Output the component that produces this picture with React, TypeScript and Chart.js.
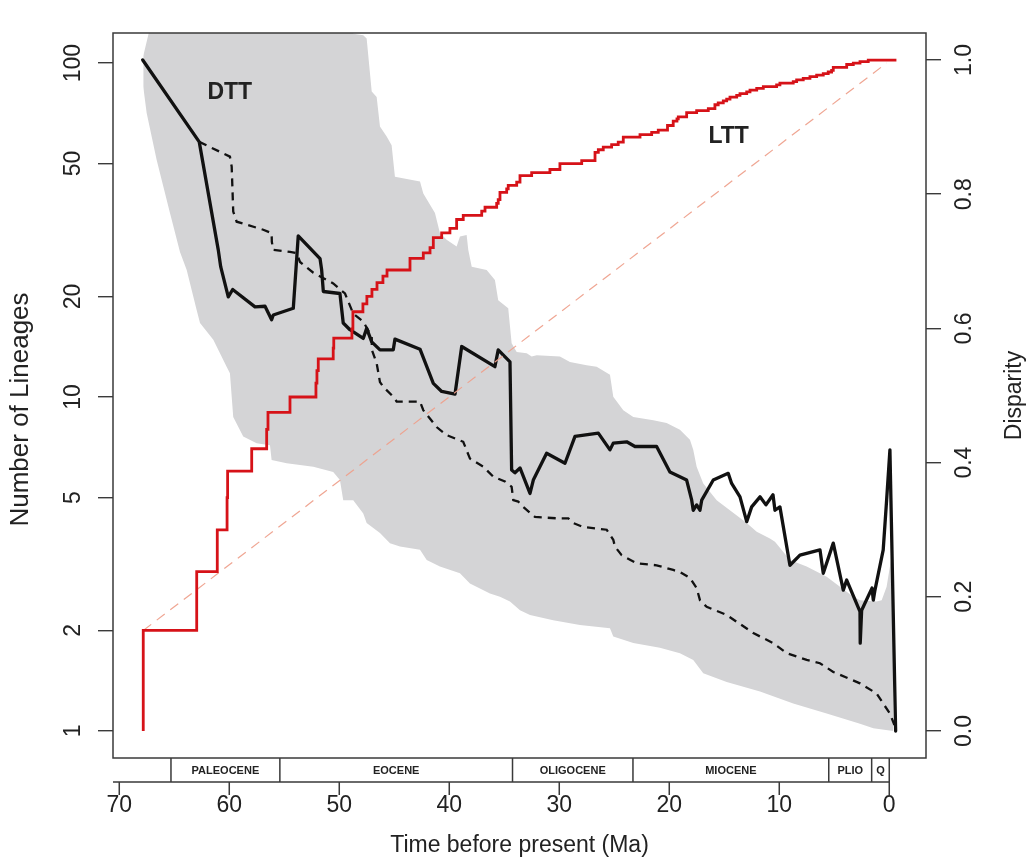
import React, { useEffect, useRef } from 'react';
import { Chart, registerables } from 'chart.js';

Chart.register(...registerables);

// ---------- data (time in Ma before present) ----------
const LTT_TIMES = [
  67.82, 67.82, 62.96, 61.09, 60.2, 60.15, 57.96, 56.6, 56.48, 54.48, 52.12, 52.03, 51.91, 50.55, 50.5,
  48.85, 48.76, 47.85, 47.49, 47.03, 46.57, 46.03, 45.66, 43.57, 42.36, 41.75, 41.45, 40.69, 39.94, 39.33,
  38.73, 37.05, 36.75, 35.69, 35.55, 35.39, 34.78, 34.64, 33.87, 33.57, 32.51, 30.85, 29.94, 27.96, 26.75,
  26.45, 26.0, 25.24, 24.64, 24.18, 22.66, 21.6, 21.0, 20.16, 19.64, 19.3, 19.18, 18.42, 17.51, 16.45,
  15.85, 15.55, 15.09, 14.78, 14.48, 13.87, 13.57, 12.96, 12.66, 12.05, 11.45, 10.24, 9.94, 8.73, 8.42,
  7.82, 7.21, 6.6, 6.0, 5.55, 5.24, 5.09, 3.87, 3.27, 2.66, 1.91, -0.65,
];
const LTT_COUNTS = [
  1, 2, 3, 4, 5, 6, 7, 8, 9, 10, 11, 12, 13, 14, 15,
  16, 18, 19, 20, 21, 22, 23, 24, 26, 27, 28, 30, 31, 32, 34,
  35, 36, 37, 38, 39, 41, 42, 43, 44, 46, 47, 48, 50, 51, 54,
  55, 56, 57, 58, 60, 61, 62, 63, 65, 67, 68, 69, 71, 72, 73,
  75, 76, 77, 78, 79, 80, 81, 82, 83, 84, 85, 86, 87, 88, 89,
  90, 91, 92, 93, 94, 95, 97, 99, 100, 101, 102, 102,
];

const EXPECTED_TIMES = [67.82, 0.24];
const EXPECTED_COUNTS = [2, 100];

const DTT_TIMES = [
  67.87, 62.73, 61.0, 60.78, 60.09, 59.69, 57.66, 56.75, 56.15, 56.0, 54.18, 53.73, 51.75, 51.6, 51.45,
  49.94, 49.64, 49.03, 47.82, 47.51, 47.05, 46.3, 45.09, 44.94, 42.66, 41.45, 40.69, 39.48, 38.87, 35.85,
  35.55, 34.48, 34.33, 34.03, 33.57, 32.66, 32.36, 31.15, 29.48, 28.57, 26.45, 25.39, 25.09, 23.87, 23.12,
  21.15, 19.94, 18.42, 17.96, 17.82, 17.51, 17.21, 17.05, 16.0, 14.64, 14.33, 13.57, 12.96, 12.51, 11.75,
  11.21, 10.57, 10.39, 9.94, 9.03, 8.12, 6.3, 6.0, 5.09, 4.18, 3.87, 2.66, 2.64, 2.51, 1.57,
  1.45, 1.3, 0.55, 0.24, -0.06, -0.58,
];
const DTT_VALUES = [
  1.0, 0.878, 0.717, 0.692, 0.647, 0.658, 0.632, 0.633, 0.613, 0.62, 0.63, 0.738, 0.704, 0.687, 0.655,
  0.652, 0.608, 0.598, 0.585, 0.6, 0.58, 0.568, 0.568, 0.584, 0.569, 0.518, 0.506, 0.502, 0.573, 0.543,
  0.568, 0.55, 0.389, 0.385, 0.392, 0.354, 0.374, 0.414, 0.399, 0.439, 0.444, 0.419, 0.429, 0.431, 0.424,
  0.424, 0.386, 0.374, 0.344, 0.329, 0.337, 0.329, 0.344, 0.374, 0.384, 0.369, 0.349, 0.312, 0.334, 0.349,
  0.337, 0.352, 0.329, 0.334, 0.247, 0.262, 0.27, 0.235, 0.28, 0.21, 0.225, 0.178, 0.131, 0.18, 0.213,
  0.195, 0.21, 0.27, 0.344, 0.419, 0.0,
];

const NULL_TIMES = [
  62.73, 59.94, 59.78, 59.64, 59.33, 56.91, 56.15, 56.13, 56.0, 54.48, 53.87, 53.57, 52.36, 50.55, 49.48,
  48.73, 47.82, 47.05, 47.04, 46.6, 46.3, 46.0, 45.09, 44.78, 42.66, 42.36, 41.15, 40.24, 38.73, 38.12,
  36.91, 36.0, 34.94, 34.33, 34.18, 33.73, 33.27, 32.21, 30.24, 29.18, 28.73, 27.82, 25.69, 25.09, 24.94,
  24.33, 22.96, 21.15, 19.64, 19.03, 18.12, 17.51, 17.21, 16.6, 14.78, 12.36, 10.55, 9.33, 7.51, 6.3,
  5.09, 2.66, 1.15, 0.55, -0.06, -0.47,
];
const NULL_VALUES = [
  0.878, 0.856, 0.841, 0.774, 0.759, 0.747, 0.742, 0.729, 0.717, 0.714, 0.712, 0.699, 0.683, 0.667, 0.652,
  0.622, 0.61, 0.588, 0.568, 0.548, 0.52, 0.513, 0.498, 0.491, 0.491, 0.478, 0.453, 0.441, 0.431, 0.406,
  0.394, 0.379, 0.372, 0.364, 0.344, 0.342, 0.334, 0.319, 0.317, 0.317, 0.31, 0.304, 0.3, 0.285, 0.275,
  0.262, 0.25, 0.247, 0.24, 0.237, 0.228, 0.213, 0.195, 0.185, 0.173, 0.146, 0.131, 0.116, 0.106, 0.101,
  0.088, 0.071, 0.056, 0.041, 0.026, 0.009,
];

const UPPER_TIMES = [
  67.82, 67.03, 49.03, 48.73, 47.82, 47.51, 47.05, 46.6, 46.3, 45.69, 45.24, 44.94, 42.66, 42.36, 41.3,
  40.85, 40.24, 39.33, 39.03, 38.42, 38.27, 37.96, 36.6, 35.85, 35.55, 34.64, 34.33, 33.87, 32.96, 32.51,
  32.05, 29.94, 29.03, 27.51, 26.6, 25.39, 25.09, 24.18, 23.27, 21.45, 20.24, 19.03, 18.12, 17.82, 17.51,
  16.91, 15.69, 12.96, 12.05, 10.85, 10.39, 9.03, 7.51, 5.69, 4.48, 3.27, 2.66, 1.15, 0.69, 0.24,
  -0.06, -0.36,
];
const UPPER_VALUES = [
  1.006, 1.06, 1.06, 1.039, 1.037, 1.032, 0.953, 0.945, 0.901, 0.886, 0.873, 0.826, 0.819, 0.801, 0.772,
  0.742, 0.732, 0.722, 0.737, 0.739, 0.717, 0.692, 0.687, 0.672, 0.642, 0.63, 0.578, 0.565, 0.563, 0.558,
  0.56, 0.558, 0.55, 0.545, 0.543, 0.531, 0.498, 0.478, 0.468, 0.463, 0.459, 0.449, 0.434, 0.419, 0.394,
  0.369, 0.344, 0.31, 0.297, 0.287, 0.282, 0.255, 0.245, 0.23, 0.215, 0.2, 0.195, 0.193, 0.195, 0.215,
  0.245, 0.277,
];

const LOWER_TIMES = [
  67.82, 67.51, 66.6, 65.39, 64.48, 63.87, 62.96, 62.66, 61.45, 60.24, 59.94, 59.64, 58.73, 57.51, 56.3,
  56.15, 54.78, 52.36, 50.55, 49.94, 49.64, 48.73, 47.82, 47.51, 46.3, 45.39, 44.48, 42.66, 42.05, 40.85,
  39.03, 38.12, 36.3, 35.39, 34.48, 33.57, 32.66, 30.55, 28.12, 25.39, 25.09, 23.27, 20.85, 19.03, 17.82,
  16.91, 14.78, 11.75, 8.73, 5.69, 2.66, 1.45, -0.36,
];
const LOWER_VALUES = [
  0.96, 0.921, 0.851, 0.772, 0.714, 0.687, 0.627, 0.608, 0.583, 0.543, 0.533, 0.468, 0.439, 0.429, 0.426,
  0.404, 0.399, 0.394, 0.386, 0.374, 0.344, 0.344, 0.324, 0.31, 0.295, 0.28, 0.275, 0.27, 0.255, 0.245,
  0.235, 0.22, 0.205, 0.2, 0.193, 0.18, 0.173, 0.165, 0.158, 0.153, 0.141, 0.131, 0.124, 0.116, 0.106,
  0.086, 0.073, 0.059, 0.041, 0.026, 0.011, 0.004, 0.0,
];

const X_TICKS = [70, 60, 50, 40, 30, 20, 10, 0];
const LEFT_TICKS = [1, 2, 5, 10, 20, 50, 100];
const RIGHT_TICKS = [0, 0.2, 0.4, 0.6, 0.8, 1.0];

const EPOCH_NAMES = ['PALEOCENE', 'EOCENE', 'OLIGOCENE', 'MIOCENE', 'PLIO', 'Q'];
const EPOCH_STARTS = [65.3, 55.4, 34.25, 23.3, 5.5, 1.6];
const EPOCH_ENDS = [55.4, 34.25, 23.3, 5.5, 1.6, 0];

const LABEL_TEXTS = ['DTT', 'LTT'];
const LABEL_TIMES = [59.95, 14.6];
const LABEL_DISPARITY = [0.951, 0.886];

// ---------- styles ----------
const FONT = '"Liberation Sans", Arial, Helvetica, sans-serif';
const INK = '#222222';
const FRAME = '#3a3a3a';
const GREY = 'rgb(212,212,214)';
const RED = 'rgb(214,18,24)';
const SALMON = 'rgba(238,160,140,0.95)';

const pts = (xs: number[], ys: number[]) => xs.map((x, i) => ({ x, y: ys[i] }));

export default function App() {
  const ref = useRef<HTMLCanvasElement | null>(null);

  useEffect(() => {
    const canvas = ref.current;
    if (!canvas) return;

    const decor = {
      id: 'decor',
      afterDraw(chart: any) {
        const { ctx, chartArea: a, scales } = chart;
        const xs = scales.x;
        const yr = scales.yR;
        ctx.save();
        ctx.strokeStyle = FRAME;
        ctx.lineWidth = 1.5;
        // plot frame
        ctx.strokeRect(a.left, a.top, a.right - a.left, a.bottom - a.top);

        // geological period bar
        const barTop = a.bottom;
        const barBottom = a.bottom + 24;
        ctx.beginPath();
        ctx.moveTo(a.left, barBottom);
        ctx.lineTo(xs.getPixelForValue(0), barBottom);
        EPOCH_STARTS.forEach((s) => {
          const px = xs.getPixelForValue(s);
          ctx.moveTo(px, barTop);
          ctx.lineTo(px, barBottom);
        });
        const endPx = xs.getPixelForValue(EPOCH_ENDS[EPOCH_ENDS.length - 1]);
        ctx.moveTo(endPx, barTop);
        ctx.lineTo(endPx, barBottom);
        // time ticks
        X_TICKS.forEach((v) => {
          const px = xs.getPixelForValue(v);
          ctx.moveTo(px, barBottom);
          ctx.lineTo(px, barBottom + 13);
        });
        ctx.stroke();

        ctx.fillStyle = INK;
        ctx.font = `bold 11px ${FONT}`;
        ctx.textAlign = 'center';
        ctx.textBaseline = 'middle';
        EPOCH_NAMES.forEach((n, i) => {
          const cx = (xs.getPixelForValue(EPOCH_STARTS[i]) + xs.getPixelForValue(EPOCH_ENDS[i])) / 2;
          ctx.fillText(n, cx, (barTop + barBottom) / 2 + 1);
        });

        // curve labels
        ctx.font = `bold 23px ${FONT}`;
        LABEL_TEXTS.forEach((t, i) => {
          ctx.fillText(t, xs.getPixelForValue(LABEL_TIMES[i]), yr.getPixelForValue(LABEL_DISPARITY[i]));
        });

        // left axis title
        ctx.save();
        ctx.font = `26px ${FONT}`;
        ctx.translate(21, (a.top + a.bottom) / 2 + 14);
        ctx.rotate(-Math.PI / 2);
        ctx.fillText('Number of Lineages', 0, 0);
        ctx.restore();

        // right axis title (reads bottom to top)
        ctx.font = `23px ${FONT}`;
        ctx.translate(chart.width - 15, (a.top + a.bottom) / 2);
        ctx.rotate(-Math.PI / 2);
        ctx.fillText('Disparity', 0, 0);
        ctx.restore();
      },
    };

    const tickFont = { family: FONT, size: 23 };

    const chart = new Chart(canvas, {
      type: 'line',
      data: {
        datasets: [
          {
            label: 'LTT',
            data: pts(LTT_TIMES, LTT_COUNTS),
            yAxisID: 'yL',
            stepped: 'before',
            borderColor: RED,
            borderWidth: 2.8,
            pointRadius: 0,
            fill: false,
          },
          {
            label: 'expected',
            data: pts(EXPECTED_TIMES, EXPECTED_COUNTS),
            yAxisID: 'yL',
            borderColor: SALMON,
            borderWidth: 1.2,
            borderDash: [10, 7],
            pointRadius: 0,
            fill: false,
          },
          {
            label: 'DTT',
            data: pts(DTT_TIMES, DTT_VALUES),
            yAxisID: 'yR',
            borderColor: '#111111',
            borderWidth: 3.3,
            borderJoinStyle: 'round',
            borderCapStyle: 'round',
            pointRadius: 0,
            tension: 0,
            fill: false,
          },
          {
            label: 'null',
            data: pts(NULL_TIMES, NULL_VALUES),
            yAxisID: 'yR',
            borderColor: '#111111',
            borderWidth: 2.3,
            borderDash: [8, 6],
            pointRadius: 0,
            fill: false,
          },
          {
            label: 'upper',
            data: pts(UPPER_TIMES, UPPER_VALUES),
            yAxisID: 'yR',
            borderWidth: 0,
            borderColor: GREY,
            backgroundColor: GREY,
            pointRadius: 0,
            fill: '+1',
          },
          {
            label: 'lower',
            data: pts(LOWER_TIMES, LOWER_VALUES),
            yAxisID: 'yR',
            borderWidth: 0,
            borderColor: GREY,
            pointRadius: 0,
            fill: false,
          },
        ],
      },
      options: {
        animation: false,
        responsive: false,
        maintainAspectRatio: false,
        layout: { padding: { top: 33, left: 0, right: 0, bottom: 0 } },
        plugins: {
          legend: { display: false },
          tooltip: { enabled: false },
          title: { display: false },
        },
        scales: {
          x: {
            type: 'linear',
            position: 'bottom',
            reverse: true,
            min: -3.34,
            max: 70.57,
            grid: { display: false, drawTicks: false },
            border: { display: false },
            ticks: {
              font: tickFont,
              color: INK,
              padding: 34,
              includeBounds: false,
              autoSkip: false,
              maxRotation: 0,
              callback: (v: any) => String(v),
            },
            afterBuildTicks: (s: any) => {
              s.ticks = X_TICKS.map((value) => ({ value }));
            },
            afterFit: (s: any) => {
              s.height = 101;
            },
            title: {
              display: true,
              text: 'Time before present (Ma)',
              font: { family: FONT, size: 23 },
              color: INK,
              padding: 0,
            },
          },
          yL: {
            type: 'logarithmic',
            position: 'left',
            min: 0.83,
            max: 123,
            grid: { display: true, drawOnChartArea: false, drawTicks: true, tickLength: 15, color: FRAME, lineWidth: 1.4 },
            border: { display: false },
            ticks: {
              font: tickFont,
              color: INK,
              minRotation: 90,
              maxRotation: 90,
              crossAlign: 'center',
              padding: 5,
              autoSkip: false,
              callback: (v: any) => String(v),
            },
            afterBuildTicks: (s: any) => {
              s.ticks = LEFT_TICKS.map((value) => ({ value }));
            },
            afterFit: (s: any) => {
              s.width = 113;
            },
          },
          yR: {
            type: 'linear',
            position: 'right',
            min: -0.0402,
            max: 1.0402,
            grid: { display: true, drawOnChartArea: false, drawTicks: true, tickLength: 15, color: FRAME, lineWidth: 1.4 },
            border: { display: false },
            ticks: {
              font: tickFont,
              color: INK,
              minRotation: 90,
              maxRotation: 90,
              crossAlign: 'center',
              padding: 8,
              autoSkip: false,
              includeBounds: false,
              callback: (v: any) => Number(v).toFixed(1),
            },
            afterBuildTicks: (s: any) => {
              s.ticks = RIGHT_TICKS.map((value) => ({ value }));
            },
            afterFit: (s: any) => {
              s.width = 104;
            },
          },
        },
      } as any,
      plugins: [decor],
    });

    return () => {
      chart.destroy();
    };
  }, []);

  return (
    <div style={{ position: 'absolute', left: 0, top: 0, width: 1030, height: 859, background: '#ffffff' }}>
      <canvas ref={ref} width={1030} height={859} style={{ display: 'block', width: 1030, height: 859 }} />
    </div>
  );
}
